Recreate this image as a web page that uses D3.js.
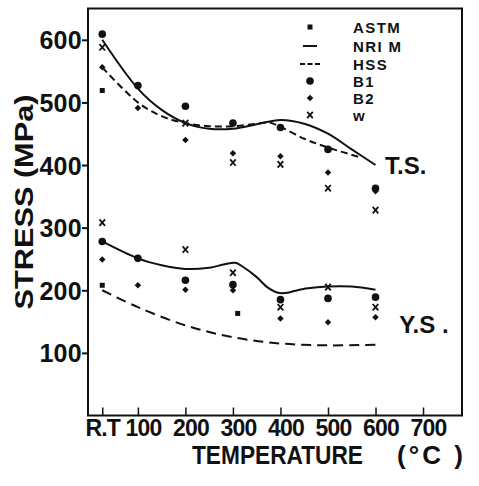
<!DOCTYPE html>
<html>
<head>
<meta charset="utf-8">
<script src="https://cdn.jsdelivr.net/npm/d3@7"></script>
<style>
  body { margin: 0; background: #fff; }
  text { font-family: "Liberation Sans", Arial, sans-serif; font-weight: bold; fill: #111; }
</style>
</head>
<body>
<div id="chart"></div>
<script>
// chart size
var svgWidth = 479;
var svgHeight = 486;

// axis ticks
var tickTemps = [25, 100, 200, 300, 400, 500, 600, 700];
var tickNames = ["R.T", "100", "200", "300", "400", "500", "600", "700"];
var stressTicks = [100, 200, 300, 400, 500, 600];

// temperatures where the specimens were tested
var ptTemps = [25, 100, 200, 300, 400, 500, 600];

// tensile strength (T.S.) points
var b1TS = [609, 527, 494, 467, 460, 425, 363];
var b2TS = [556, 491, 440, 419, 414, 388, 358];
var wTS = [588, null, 467, 404, 401, 363, 328];
var astmTST = [25];
var astmTS = [519];

// yield strength (Y.S.) points
var b1YS = [278, 251, 216, 209, 185, 187, 189];
var b2YS = [249, 208, 201, 200, 155, 149, 157];
var wYS = [308, null, 265, 228, 173, 205, 173];
var astmYST = [25, 310];
var astmYS = [208, 163];

// NRIM curves (solid)
var nrimTST = [25, 100, 150, 200, 250, 300, 350, 400, 450, 500, 550, 600];
var nrimTS = [600, 522, 488, 467, 458, 458, 465, 472, 466, 450, 425, 400];
var nrimYST = [25, 100, 150, 200, 250, 280, 305, 320, 350, 372, 395, 415, 440, 500, 550, 600];
var nrimYS = [278, 251, 240, 234, 236, 241, 244, 238, 221, 205, 196, 196, 201, 206, 206, 201];

// HSS curves (dashed)
var hssTST = [25, 100, 150, 200, 250, 300, 350, 375, 400, 450, 500, 565];
var hssTS = [556, 500, 478, 467, 462, 462, 466, 468, 461, 442, 428, 413];
var hssYST = [25, 100, 200, 300, 400, 500, 600];
var hssYS = [200, 173, 144, 125, 115, 112, 113];

// legend
var legendNames = ["ASTM", "NRI M", "HSS", "B1", "B2", "w"];
var legendKinds = ["square", "solid", "dashed", "dot", "diamond", "cross"];

var x = d3.scaleLinear().domain([-5, 782]).range([88, 462]);
var y = d3.scaleLinear().domain([0, 650]).range([415.5, 8.5]);

var svg = d3.select("#chart")
  .append("svg")
  .attr("width", svgWidth)
  .attr("height", svgHeight);

// frame
svg.append("rect")
  .attr("x", x(-5)).attr("y", y(650))
  .attr("width", x(782) - x(-5)).attr("height", y(0) - y(650))
  .attr("fill", "none").attr("stroke", "#111").attr("stroke-width", 2);

// x axis, ticks point inwards
var xAxis = d3.axisBottom(x).tickValues(tickTemps)
  .tickSizeInner(-8).tickSizeOuter(0)
  .tickFormat((d, i) => tickNames[i]);
var gx = svg.append("g").attr("transform", `translate(0,${y(0)})`).call(xAxis);
gx.select(".domain").remove();
gx.selectAll(".tick line").attr("stroke", "#111").attr("stroke-width", 1.5);
gx.selectAll(".tick text")
  .attr("y", 4).attr("dx", (d, i) => i == 0 ? 0 : 5)
  .style("font-size", "23px").style("letter-spacing", "-0.8px")
  .attr("fill", "#111");

// y axis, ticks point outwards
var yAxis = d3.axisLeft(y).tickValues(stressTicks).tickSizeInner(6).tickSizeOuter(0);
var gy = svg.append("g").attr("transform", `translate(${x(-5)},0)`).call(yAxis);
gy.select(".domain").remove();
gy.selectAll(".tick line").attr("stroke", "#111").attr("stroke-width", 2);
gy.selectAll(".tick text")
  .attr("x", -6).attr("dy", "0.36em")
  .style("font-size", "25px").style("letter-spacing", "0.3px")
  .attr("fill", "#111");

// axis titles
svg.append("text")
  .attr("transform", "translate(33,202) rotate(-90)")
  .attr("text-anchor", "middle")
  .attr("textLength", 215).attr("lengthAdjust", "spacingAndGlyphs")
  .style("font-size", "25px")
  .text("STRESS (MPa)");
svg.append("text")
  .attr("x", 192).attr("y", 464)
  .attr("textLength", 171).attr("lengthAdjust", "spacingAndGlyphs")
  .style("font-size", "26px")
  .text("TEMPERATURE");
svg.append("text")
  .attr("x", 397).attr("y", 464)
  .attr("textLength", 66).attr("lengthAdjust", "spacing")
  .style("font-size", "26px")
  .text("(°C )");

// curves
var line = d3.line().x(d => x(d[0])).y(d => y(d[1])).curve(d3.curveCatmullRom.alpha(0.5));
function pairs(ts, vs) { return ts.map((t, i) => [t, vs[i]]).filter(d => d[1] != null); }

svg.append("path").datum(pairs(nrimTST, nrimTS)).attr("d", line)
  .attr("fill", "none").attr("stroke", "#111").attr("stroke-width", 2);
svg.append("path").datum(pairs(nrimYST, nrimYS)).attr("d", line)
  .attr("fill", "none").attr("stroke", "#111").attr("stroke-width", 2);
svg.append("path").datum(pairs(hssTST, hssTS)).attr("d", line)
  .attr("fill", "none").attr("stroke", "#111").attr("stroke-width", 2).attr("stroke-dasharray", "7,4");
svg.append("path").datum(pairs(hssYST, hssYS)).attr("d", line)
  .attr("fill", "none").attr("stroke", "#111").attr("stroke-width", 2).attr("stroke-dasharray", "10,6");

// markers
function marker(g, kind, cx, cy) {
  if (kind == "dot") {
    g.append("circle").attr("cx", cx).attr("cy", cy).attr("r", 3.8).attr("fill", "#111");
  } else if (kind == "diamond") {
    g.append("rect").attr("x", -2.3).attr("y", -2.3).attr("width", 4.6).attr("height", 4.6)
      .attr("transform", `translate(${cx},${cy}) rotate(45)`).attr("fill", "#111");
  } else if (kind == "square") {
    g.append("rect").attr("x", cx - 2.5).attr("y", cy - 2.5).attr("width", 5).attr("height", 5).attr("fill", "#111");
  } else if (kind == "cross") {
    g.append("path").attr("d", `M${cx - 2.8},${cy - 3.2}L${cx + 2.8},${cy + 3.2}M${cx + 2.8},${cy - 3.2}L${cx - 2.8},${cy + 3.2}`)
      .attr("stroke", "#111").attr("stroke-width", 1.8);
  } else if (kind == "solid") {
    g.append("line").attr("x1", cx - 7).attr("x2", cx + 7).attr("y1", cy).attr("y2", cy)
      .attr("stroke", "#111").attr("stroke-width", 2);
  } else if (kind == "dashed") {
    g.append("line").attr("x1", cx - 10).attr("x2", cx + 10).attr("y1", cy).attr("y2", cy)
      .attr("stroke", "#111").attr("stroke-width", 2).attr("stroke-dasharray", "5,2.5");
  }
}

var pts = svg.append("g");
function drawSeries(kind, ts, vs) {
  pairs(ts, vs).forEach(d => marker(pts, kind, x(d[0]), y(d[1])));
}
drawSeries("dot", ptTemps, b1TS);
drawSeries("diamond", ptTemps, b2TS);
drawSeries("cross", ptTemps, wTS);
drawSeries("square", astmTST, astmTS);
drawSeries("dot", ptTemps, b1YS);
drawSeries("diamond", ptTemps, b2YS);
drawSeries("cross", ptTemps, wYS);
drawSeries("square", astmYST, astmYS);

// curve labels
svg.append("text").attr("x", x(620)).attr("y", y(385)).style("font-size", "24px").text("T.S.");
svg.append("text").attr("x", x(650)).attr("y", y(132)).style("font-size", "24px").text("Y.S .");

// legend
var legendRows = [27, 46, 64, 81, 98, 115];
var lg = svg.append("g");
legendNames.forEach((name, i) => {
  marker(lg, legendKinds[i], 310, legendRows[i]);
  lg.append("text").attr("x", 353).attr("y", legendRows[i] + 5.5)
    .style("font-size", "15px").style("letter-spacing", "1.4px")
    .text(name);
});
</script>
</body>
</html>
